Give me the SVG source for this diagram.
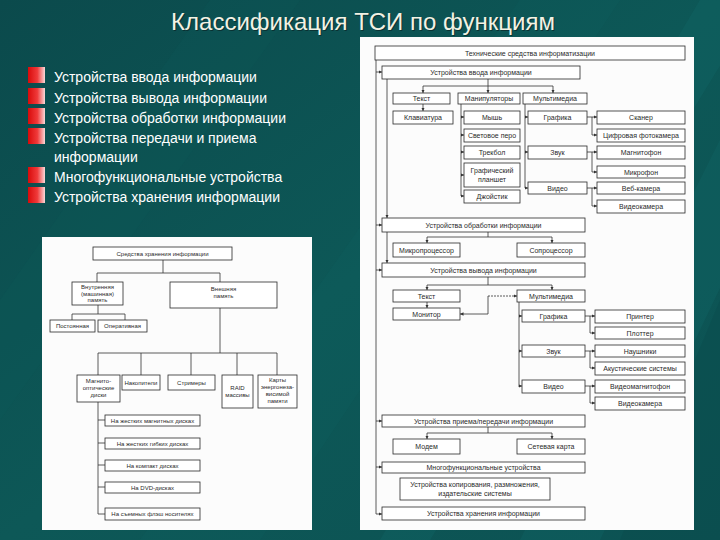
<svg xmlns="http://www.w3.org/2000/svg" width="720" height="540" viewBox="0 0 720 540">
<defs>
<linearGradient id="bg" x1="0" y1="0" x2="1" y2="1">
<stop offset="0" stop-color="#0b4a4c"/>
<stop offset="0.5" stop-color="#0d5857"/>
<stop offset="1" stop-color="#0c5253"/>
</linearGradient>
<linearGradient id="bul" x1="0" y1="0" x2="1" y2="0">
<stop offset="0" stop-color="#d80a0a"/>
<stop offset="0.55" stop-color="#f03a3a"/>
<stop offset="1" stop-color="#fbd8d8"/>
</linearGradient>
<marker id="ar" viewBox="0 0 6 6" markerWidth="3.5" markerHeight="3.5" refX="6" refY="3" orient="auto" markerUnits="userSpaceOnUse">
<path d="M0,0 L6,3 L0,6 z" fill="#333"/>
</marker>
<style>
.b{fill:#fff;stroke:#2a2a2a;stroke-width:0.8}
.t{font-family:"Liberation Sans",Arial,sans-serif;font-size:7px;fill:#2a2a2a;text-anchor:middle}
.s{font-family:"Liberation Sans",Arial,sans-serif;font-size:6px;fill:#2a2a2a;text-anchor:middle}
.c{fill:none;stroke:#333;stroke-width:0.8}
.a{marker-end:url(#ar)}
.bt{font-family:"Liberation Sans",Arial,sans-serif;font-size:14px;fill:#ffffff}
.bl{fill:url(#bul)}
</style>
</defs>
<rect x="0" y="0" width="720" height="540" fill="url(#bg)"/>
<g id="streaks" opacity="0.5">
<polygon points="140,540 260,540 620,0 520,0" fill="#0f6463" opacity="0.35"/>
<polygon points="380,540 430,540 760,0 700,0" fill="#147170" opacity="0.45"/>
<polygon points="520,540 600,540 800,120 740,100" fill="#137473" opacity="0.4"/>
<polygon points="0,300 0,420 300,0 210,0" fill="#0d5c5b" opacity="0.4"/>
<polygon points="620,540 720,540 720,300" fill="#0a4648" opacity="0.5"/>
</g>
<text x="364" y="31" font-family="'Liberation Sans',Arial,sans-serif" font-size="24" fill="#0a2b2c" text-anchor="middle" opacity="0.8">Классификация ТСИ по функциям</text>
<text x="363" y="30" font-family="'Liberation Sans',Arial,sans-serif" font-size="24" fill="#f2f2e4" text-anchor="middle">Классификация ТСИ по функциям</text>
<g id="bullets">
<rect class="bl" x="28" y="67" width="17" height="16"/>
<rect class="bl" x="28" y="88" width="17" height="16"/>
<rect class="bl" x="28" y="108" width="17" height="16"/>
<rect class="bl" x="28" y="128" width="17" height="16"/>
<rect class="bl" x="28" y="167" width="17" height="16"/>
<rect class="bl" x="28" y="187" width="17" height="16"/>
<text class="bt" x="54" y="82">Устройства ввода информации</text>
<text class="bt" x="54" y="103">Устройства вывода информации</text>
<text class="bt" x="54" y="123">Устройства обработки информации</text>
<text class="bt" x="54" y="143">Устройства передачи и приема</text>
<text class="bt" x="54" y="162">информации</text>
<text class="bt" x="54" y="182">Многофункциональные устройства</text>
<text class="bt" x="54" y="202">Устройства хранения информации</text>
</g>
<rect x="360" y="37" width="334" height="493" fill="#fcfcfc"/>
<rect x="42" y="237" width="270" height="293" fill="#fcfcfc"/>
<g id="connectors">
<path class="c" d="M376,60 V514"/>
<path class="c a" d="M376,72 H382"/>
<path class="c a" d="M376,225 H382"/>
<path class="c a" d="M376,270 H382"/>
<path class="c a" d="M376,421 H382"/>
<path class="c a" d="M376,467 H382"/>
<path class="c a" d="M376,514 H382"/>
<path class="c a" d="M387,79 V218"/>
<path class="c a" d="M387,232 V263"/>
<path class="c" d="M488,79 V86 M423,86 H553"/>
<path class="c a" d="M423,86 V93"/>
<path class="c a" d="M488,86 V93"/>
<path class="c a" d="M553,86 V93"/>
<path class="c a" d="M423,104 V111"/>
<path class="c" d="M461,104 V196"/>
<path class="c a" d="M461,117 H464"/>
<path class="c a" d="M461,135 H464"/>
<path class="c a" d="M461,152 H464"/>
<path class="c a" d="M461,175 H464"/>
<path class="c a" d="M461,196 H464"/>
<path class="c" d="M525,104 V188"/>
<path class="c a" d="M525,117 H528"/>
<path class="c a" d="M525,152 H528"/>
<path class="c a" d="M525,188 H528"/>
<path class="c" d="M587,117 H592 V135"/>
<path class="c a" d="M592,117 H597"/>
<path class="c a" d="M592,135 H597"/>
<path class="c" d="M587,152 H592 V172"/>
<path class="c a" d="M592,152 H597"/>
<path class="c a" d="M592,172 H597"/>
<path class="c" d="M587,188 H592 V206"/>
<path class="c a" d="M592,188 H597"/>
<path class="c a" d="M592,206 H597"/>
<path class="c" d="M488,232 V237 M427,237 H552"/>
<path class="c a" d="M427,237 V243"/>
<path class="c a" d="M552,237 V243"/>
<path class="c" d="M488,277 V285 M427,285 H552"/>
<path class="c a" d="M427,285 V290"/>
<path class="c a" d="M552,285 V290"/>
<path class="c a" d="M427,302 V308"/>
<path class="c a" d="M488,296 H517" stroke-dasharray="2,1"/>
<path class="c a" d="M488,296 V314 H460"/>
<path class="c" d="M519,302 V387"/>
<path class="c a" d="M519,316 H522"/>
<path class="c a" d="M519,351 H522"/>
<path class="c a" d="M519,386 H522"/>
<path class="c" d="M585,316 H590 V333"/>
<path class="c a" d="M590,316 H595"/>
<path class="c a" d="M590,333 H595"/>
<path class="c" d="M585,351 H590 V368"/>
<path class="c a" d="M590,351 H595"/>
<path class="c a" d="M590,368 H595"/>
<path class="c" d="M585,386 H590 V403"/>
<path class="c a" d="M590,386 H595"/>
<path class="c a" d="M590,403 H595"/>
<path class="c" d="M488,427 V433 M427,433 H552"/>
<path class="c a" d="M427,433 V439"/>
<path class="c a" d="M552,433 V439"/>
<path class="c" d="M163,260 V273 M97,273 H220 M97,273 V282 M220,273 V282"/>
<path class="c" d="M98,305 V314 M72,314 H125 M72,314 V320 M125,314 V320"/>
<path class="c" d="M220,308 V353 M98,353 H277 M98,353 V375 M141,353 V375 M191,353 V375 M237,353 V375 M277,353 V375"/>
<path class="c" d="M98,402 V514 M98,420 H105 M98,443 H105 M98,465 H105 M98,487 H105 M98,514 H105"/>
</g>
<g id="n_r1"><rect class="b" x="375" y="46" width="310" height="14"/><text class="t" x="530" y="55.5">Технические средства информатизации</text></g>
<g id="n_r2"><rect class="b" x="382" y="66" width="198" height="13"/><text class="t" x="481" y="75">Устройства ввода информации</text></g>
<g id="n_r3"><rect class="b" x="393" y="93" width="57" height="11"/><text class="t" x="421.5" y="101">Текст</text></g>
<g id="n_r4"><rect class="b" x="458" y="93" width="62" height="11"/><text class="t" x="489" y="101">Манипуляторы</text></g>
<g id="n_r5"><rect class="b" x="523" y="93" width="64" height="11"/><text class="t" x="555" y="101">Мультимедиа</text></g>
<g id="n_r6"><rect class="b" x="393" y="111" width="60" height="13"/><text class="t" x="423" y="120">Клавиатура</text></g>
<g id="n_r7"><rect class="b" x="464" y="111" width="56" height="13"/><text class="t" x="492" y="120">Мышь</text></g>
<g id="n_r8"><rect class="b" x="464" y="129" width="56" height="13"/><text class="t" x="492" y="138">Световое перо</text></g>
<g id="n_r9"><rect class="b" x="464" y="146" width="56" height="13"/><text class="t" x="492" y="155">Трекбол</text></g>
<g id="n_r10"><rect class="b" x="464" y="163" width="56" height="24"/><text class="t" x="492" y="173">Графический</text><text class="t" x="492" y="182">планшет</text></g>
<g id="n_r11"><rect class="b" x="464" y="190" width="56" height="13"/><text class="t" x="492" y="199">Джойстик</text></g>
<g id="n_r12"><rect class="b" x="528" y="111" width="59" height="13"/><text class="t" x="557.5" y="120">Графика</text></g>
<g id="n_r13"><rect class="b" x="528" y="146" width="59" height="13"/><text class="t" x="557.5" y="155">Звук</text></g>
<g id="n_r14"><rect class="b" x="528" y="182" width="59" height="12"/><text class="t" x="557.5" y="190.5">Видео</text></g>
<g id="n_r15"><rect class="b" x="597" y="111" width="88" height="13"/><text class="t" x="641" y="120">Сканер</text></g>
<g id="n_r16"><rect class="b" x="597" y="129" width="88" height="13"/><text class="t" x="641" y="138">Цифровая фотокамера</text></g>
<g id="n_r17"><rect class="b" x="597" y="146" width="88" height="13"/><text class="t" x="641" y="155">Магнитофон</text></g>
<g id="n_r18"><rect class="b" x="597" y="166" width="88" height="12"/><text class="t" x="641" y="174.5">Микрофон</text></g>
<g id="n_r19"><rect class="b" x="597" y="182" width="88" height="12"/><text class="t" x="641" y="190.5">Веб-камера</text></g>
<g id="n_r20"><rect class="b" x="597" y="200" width="88" height="13"/><text class="t" x="641" y="209">Видеокамера</text></g>
<g id="n_r21"><rect class="b" x="382" y="218" width="203" height="14"/><text class="t" x="483.5" y="227.5">Устройства обработки информации</text></g>
<g id="n_r22"><rect class="b" x="393" y="243" width="67" height="14"/><text class="t" x="426.5" y="252.5">Микропроцессор</text></g>
<g id="n_r23"><rect class="b" x="517" y="243" width="68" height="14"/><text class="t" x="551" y="252.5">Сопроцессор</text></g>
<g id="n_r24"><rect class="b" x="382" y="263" width="203" height="14"/><text class="t" x="483.5" y="272.5">Устройства вывода информации</text></g>
<g id="n_r25"><rect class="b" x="393" y="290" width="67" height="12"/><text class="t" x="426.5" y="298.5">Текст</text></g>
<g id="n_r26"><rect class="b" x="517" y="290" width="68" height="12"/><text class="t" x="551" y="298.5">Мультимедиа</text></g>
<g id="n_r27"><rect class="b" x="393" y="308" width="67" height="12"/><text class="t" x="426.5" y="316.5">Монитор</text></g>
<g id="n_r28"><rect class="b" x="522" y="310" width="63" height="12"/><text class="t" x="553.5" y="318.5">Графика</text></g>
<g id="n_r29"><rect class="b" x="522" y="345" width="63" height="12"/><text class="t" x="553.5" y="353.5">Звук</text></g>
<g id="n_r30"><rect class="b" x="522" y="380" width="63" height="13"/><text class="t" x="553.5" y="389">Видео</text></g>
<g id="n_r31"><rect class="b" x="595" y="310" width="90" height="13"/><text class="t" x="640" y="319">Принтер</text></g>
<g id="n_r32"><rect class="b" x="595" y="327" width="90" height="12"/><text class="t" x="640" y="335.5">Плоттер</text></g>
<g id="n_r33"><rect class="b" x="595" y="345" width="90" height="12"/><text class="t" x="640" y="353.5">Наушники</text></g>
<g id="n_r34"><rect class="b" x="595" y="362" width="90" height="13"/><text class="t" x="640" y="371">Акустические системы</text></g>
<g id="n_r35"><rect class="b" x="595" y="380" width="90" height="13"/><text class="t" x="640" y="389">Видеомагнитофон</text></g>
<g id="n_r36"><rect class="b" x="595" y="397" width="90" height="13"/><text class="t" x="640" y="406">Видеокамера</text></g>
<g id="n_r37"><rect class="b" x="382" y="415" width="203" height="12"/><text class="t" x="483.5" y="423.5">Устройства приема/передачи информации</text></g>
<g id="n_r38"><rect class="b" x="393" y="439" width="67" height="15"/><text class="t" x="426.5" y="449">Модем</text></g>
<g id="n_r39"><rect class="b" x="517" y="439" width="68" height="15"/><text class="t" x="551" y="449">Сетевая карта</text></g>
<g id="n_r40"><rect class="b" x="382" y="462" width="203" height="11"/><text class="t" x="483.5" y="470">Многофункциональные устройства</text></g>
<g id="n_r41"><rect class="b" x="400" y="478" width="150" height="22"/><text class="t" x="475" y="487">Устройства копирования, размножения,</text><text class="t" x="475" y="496">издательские системы</text></g>
<g id="n_r42"><rect class="b" x="382" y="507" width="203" height="13"/><text class="t" x="483.5" y="516">Устройства хранения информации</text></g>
<g id="n_l1"><rect class="b" x="93" y="247" width="139" height="13"/><text class="s" x="162.5" y="256">Средства хранения информации</text></g>
<g id="n_l2"><rect class="b" x="72" y="282" width="51" height="23"/><text class="s" x="97.5" y="289">Внутренняя</text><text class="s" x="97.5" y="295.5">(машинная)</text><text class="s" x="97.5" y="302">память</text></g>
<g id="n_l3"><rect class="b" x="170" y="282" width="107" height="26"/><text class="s" x="223.5" y="291">Внешняя</text><text class="s" x="223.5" y="298">память</text></g>
<g id="n_l4"><rect class="b" x="50" y="320" width="45" height="12"/><text class="s" x="72.5" y="328">Постоянная</text></g>
<g id="n_l5"><rect class="b" x="98" y="320" width="49" height="12"/><text class="s" x="122.5" y="328">Оперативная</text></g>
<g id="n_l6"><rect class="b" x="77" y="375" width="43" height="27"/><text class="s" x="98.5" y="383">Магнито-</text><text class="s" x="98.5" y="390">оптические</text><text class="s" x="98.5" y="397">диски</text></g>
<g id="n_l7"><rect class="b" x="122" y="375" width="38" height="15"/><text class="s" x="141" y="384.5">Накопители</text></g>
<g id="n_l8"><rect class="b" x="168" y="375" width="47" height="15"/><text class="s" x="191.5" y="384.5">Стримеры</text></g>
<g id="n_l9"><rect class="b" x="222" y="375" width="31" height="33"/><text class="s" x="237.5" y="390">RAID</text><text class="s" x="237.5" y="397">массивы</text></g>
<g id="n_l10"><rect class="b" x="258" y="375" width="39" height="33"/><text class="s" x="277.5" y="382">Карты</text><text class="s" x="277.5" y="389">энергонеза-</text><text class="s" x="277.5" y="396">висимой</text><text class="s" x="277.5" y="403">памяти</text></g>
<g id="n_l11"><rect class="b" x="105" y="415" width="95" height="11"/><text class="s" x="152.5" y="422.5">На жестких магнитных дисках</text></g>
<g id="n_l12"><rect class="b" x="105" y="438" width="95" height="11"/><text class="s" x="152.5" y="445.5">На жестких гибких дисках</text></g>
<g id="n_l13"><rect class="b" x="105" y="460" width="95" height="11"/><text class="s" x="152.5" y="467.5">На компакт дисках</text></g>
<g id="n_l14"><rect class="b" x="105" y="482" width="95" height="11"/><text class="s" x="152.5" y="489.5">На DVD-дисках</text></g>
<g id="n_l15"><rect class="b" x="105" y="508" width="95" height="12"/><text class="s" x="152.5" y="516">На съемных флэш носителях</text></g>
</svg>
